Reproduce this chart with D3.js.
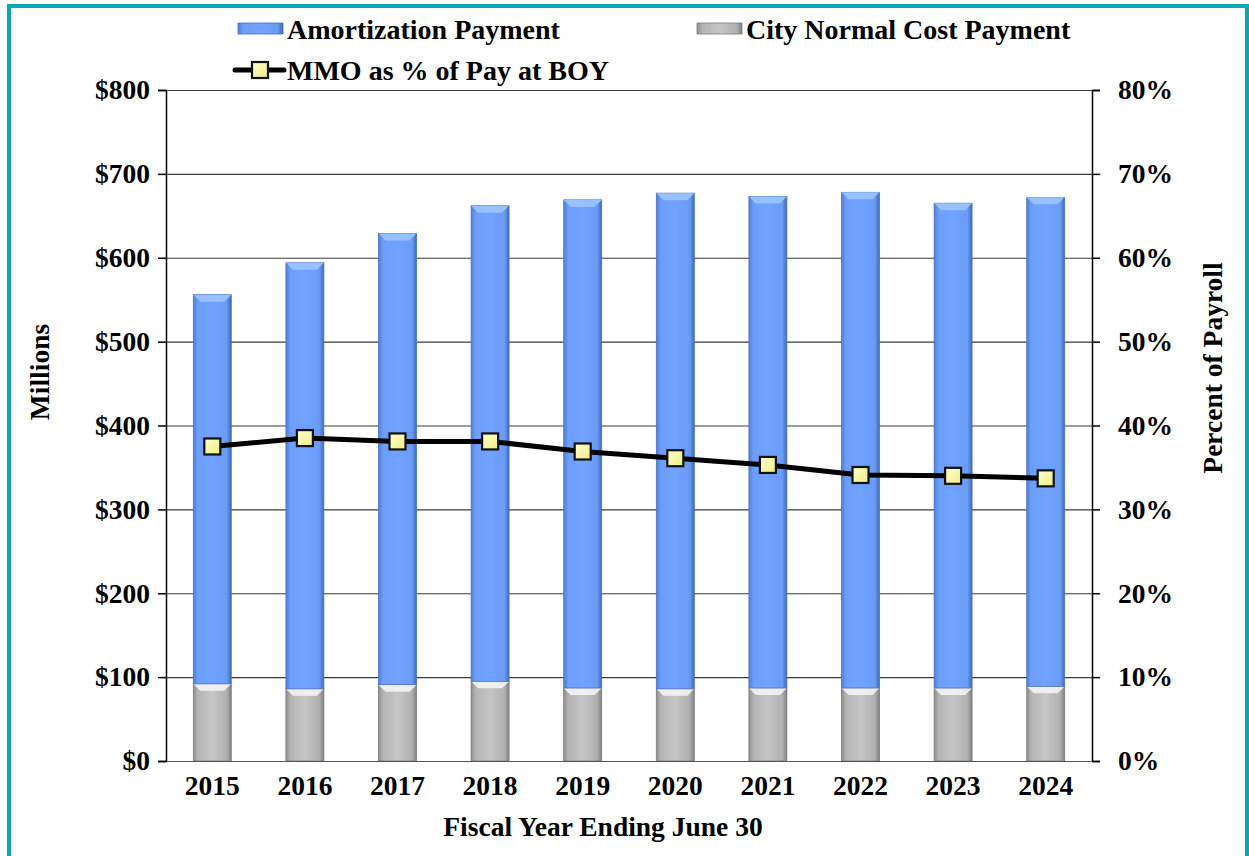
<!DOCTYPE html>
<html>
<head>
<meta charset="utf-8">
<script src="https://cdn.jsdelivr.net/npm/d3@7"></script>
<style>
  body { margin: 0; background: #fff; }
  text { font-family: "Liberation Serif", "Times New Roman", serif; font-weight: bold; fill: #000; }
</style>
</head>
<body>
<svg id="viz-svg" width="1249" height="856"></svg>
<script>
// values ($ millions, % of payroll)
var years = ["2015","2016","2017","2018","2019","2020","2021","2022","2023","2024"]
  , normalCost = [92, 86, 91, 95, 87, 86, 87, 87, 87, 89]
  , amortization = [464, 508, 538, 567, 582, 591, 586, 591, 578, 583]
  , mmoPct = [37.5, 38.5, 38.1, 38.1, 36.9, 36.1, 35.3, 34.1, 34.0, 33.7]
  , leftTicks = [0, 100, 200, 300, 400, 500, 600, 700, 800]
  , rightTicks = [0, 10, 20, 30, 40, 50, 60, 70, 80]

var svg = d3.select("#viz-svg")
  , margin = {left: 166, right: 1092, top: 90, bottom: 761}

var x = d3.scaleBand().domain(years).range([margin.left, margin.right]).paddingInner(0.59).paddingOuter(0.295)
  , yL = d3.scaleLinear().domain([0, 800]).range([margin.bottom, margin.top])
  , yR = d3.scaleLinear().domain([0, 80]).range([margin.bottom, margin.top])

// gradients for the bevelled bars
var defs = svg.append("defs")
function hGrad(id, stops){
  var g = defs.append("linearGradient").attr("id", id).attr("x1", 0).attr("x2", 1).attr("y1", 0).attr("y2", 0)
  stops.forEach(function(s){ g.append("stop").attr("offset", s[0]).attr("stop-color", s[1]) })
}
hGrad("blueGrad", [[0, "#4f7fd6"], [0.12, "#6d9ef8"], [0.5, "#70a2ff"], [0.88, "#6a9bf6"], [1, "#3f68b8"]])
hGrad("grayGrad", [[0, "#8e8e8e"], [0.12, "#b4b4b4"], [0.5, "#c6c6c6"], [0.88, "#b0b0b0"], [1, "#808080"]])
var mg = defs.append("linearGradient").attr("id", "markGrad").attr("x1", 0).attr("x2", 1).attr("y1", 0).attr("y2", 1)
mg.append("stop").attr("offset", 0).attr("stop-color", "#ffffd0")
mg.append("stop").attr("offset", 1).attr("stop-color", "#eeee80")

// outer teal frame
svg.append("rect")
  .attr("x", 9).attr("y", 6).attr("width", 1238).attr("height", 900)
  .attr("fill", "none").attr("stroke", "#0aa7b6").attr("stroke-width", 4)

// gridlines
svg.append("g").selectAll("line")
  .data(leftTicks.slice(1))
  .enter().append("line")
    .attr("x1", margin.left).attr("x2", margin.right)
    .attr("y1", function(d){ return yL(d) + 0.5 }).attr("y2", function(d){ return yL(d) + 0.5 })
    .attr("stroke", "#3a3a3a").attr("stroke-width", 1.2)

// stacked bars
var stackData = years.map(function(yr, i){
  return {year: yr, normal: normalCost[i], amort: amortization[i]}
})
var series = d3.stack().keys(["normal", "amort"])(stackData)
var fills = {normal: "url(#grayGrad)", amort: "url(#blueGrad)"}
  , bevel = {normal: "#f4f4f4", amort: "#9cc4ff"}
  , edge = {normal: "#7a7a7a", amort: "#4a72c0"}

series.forEach(function(s){
  var g = svg.append("g").attr("class", "series-" + s.key)
  g.selectAll("rect")
    .data(s)
    .enter().append("rect")
      .attr("x", function(d){ return x(d.data.year) })
      .attr("y", function(d){ return yL(d[1]) })
      .attr("width", x.bandwidth())
      .attr("height", function(d){ return yL(d[0]) - yL(d[1]) })
      .attr("fill", fills[s.key])
      .attr("stroke", edge[s.key]).attr("stroke-width", 0.8)
  // light top bevel
  g.selectAll("path")
    .data(s)
    .enter().append("path")
      .attr("d", function(d){
        var x0 = x(d.data.year), w = x.bandwidth(), t = yL(d[1]), b = 7
        return "M" + x0 + "," + t + "L" + (x0 + w) + "," + t + "L" + (x0 + w - b) + "," + (t + b) + "L" + (x0 + b) + "," + (t + b) + "Z"
      })
      .attr("fill", bevel[s.key]).attr("opacity", 0.9)
})

// axes
var leftAxis = d3.axisLeft(yL).tickValues(leftTicks).tickSize(8).tickPadding(8).tickFormat(function(d){ return "$" + d })
var rightAxis = d3.axisRight(yR).tickValues(rightTicks).tickSize(8).tickPadding(18).tickFormat(function(d){ return d + "%" })
var bottomAxis = d3.axisBottom(x).tickSize(0).tickPadding(14)

function styleAxis(g){
  g.select(".domain").attr("stroke", "#000").attr("stroke-width", 1.5)
  g.selectAll(".tick line").attr("stroke", "#000").attr("stroke-width", 1.5)
  g.selectAll("text").style("font-size", "27.5px").style("font-family", "'Liberation Serif', serif").style("font-weight", "bold").attr("fill", "#000")
}

svg.append("g").attr("transform", "translate(" + margin.left + ",0)").call(leftAxis).call(styleAxis)
svg.append("g").attr("transform", "translate(" + margin.right + ",0)").call(rightAxis).call(styleAxis)
svg.append("g").attr("transform", "translate(0," + margin.bottom + ")").call(bottomAxis).call(styleAxis)
  .select(".domain").attr("stroke", "#555").attr("stroke-width", 1.2)

// MMO line
var line = d3.line()
  .x(function(d, i){ return x(years[i]) + x.bandwidth() / 2 })
  .y(function(d){ return yR(d) })
svg.append("path")
  .datum(mmoPct)
  .attr("d", line)
  .attr("fill", "none").attr("stroke", "#000").attr("stroke-width", 5)
svg.append("g").selectAll("rect")
  .data(mmoPct)
  .enter().append("rect")
    .attr("x", function(d, i){ return x(years[i]) + x.bandwidth() / 2 - 8 })
    .attr("y", function(d){ return yR(d) - 8 })
    .attr("width", 16).attr("height", 16)
    .attr("fill", "url(#markGrad)").attr("stroke", "#111").attr("stroke-width", 2.2)

// axis titles
svg.append("text")
  .attr("transform", "translate(49,372) rotate(-90)")
  .attr("text-anchor", "middle").style("font-size", "27.5px")
  .text("Millions")
svg.append("text")
  .attr("transform", "translate(1222,368) rotate(-90)")
  .attr("text-anchor", "middle").style("font-size", "27.5px")
  .text("Percent of Payroll")
svg.append("text")
  .attr("x", 603).attr("y", 836)
  .attr("text-anchor", "middle").style("font-size", "27.5px")
  .text("Fiscal Year Ending June 30")

// legend
var legend = svg.append("g").attr("id", "legend")
legend.append("rect").attr("x", 238).attr("y", 23).attr("width", 45).attr("height", 11)
  .attr("fill", "url(#blueGrad)").attr("stroke", "#4a72c0").attr("stroke-width", 0.8)
legend.append("text").attr("x", 287).attr("y", 39).style("font-size", "28px").text("Amortization Payment")
legend.append("rect").attr("x", 697).attr("y", 23).attr("width", 45).attr("height", 11)
  .attr("fill", "url(#grayGrad)").attr("stroke", "#7a7a7a").attr("stroke-width", 0.8)
legend.append("text").attr("x", 746).attr("y", 39).style("font-size", "28px").text("City Normal Cost Payment")
legend.append("line").attr("x1", 235).attr("x2", 284).attr("y1", 70).attr("y2", 70)
  .attr("stroke", "#000").attr("stroke-width", 5).attr("stroke-linecap", "round")
legend.append("rect").attr("x", 252).attr("y", 62).attr("width", 16).attr("height", 16)
  .attr("fill", "url(#markGrad)").attr("stroke", "#111").attr("stroke-width", 2.2)
legend.append("text").attr("x", 287).attr("y", 80).style("font-size", "28px").text("MMO as % of Pay at BOY")
</script>
</body>
</html>
